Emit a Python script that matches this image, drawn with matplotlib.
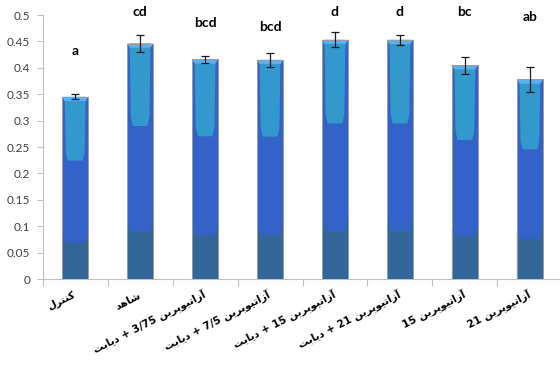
import numpy as np
import matplotlib
matplotlib.use('Agg')
import matplotlib.pyplot as plt
from matplotlib.patches import Polygon
from matplotlib.ticker import FuncFormatter

# Group names (logical Persian order), means, standard errors and significance letters
groups = ['کنترل', 'شاهد', 'آزاتیوپرین 3/75 + دیابت', 'آزاتیوپرین 7/5 + دیابت',
          'آزاتیوپرین 15 + دیابت', 'آزاتیوپرین 21 + دیابت', 'آزاتیوپرین 15', 'آزاتیوپرین 21']
means = [0.345, 0.446, 0.416, 0.415, 0.453, 0.453, 0.405, 0.378]
errors = [0.005, 0.016, 0.006, 0.013, 0.014, 0.009, 0.016, 0.024]
letters = ['a', 'cd', 'bcd', 'bcd', 'd', 'd', 'bc', 'ab']

# baseline heights of the letters above the bars
letter_pos = [0.424, 0.499, 0.478, 0.470, 0.499, 0.499, 0.499, 0.488]

# contextual forms: isolated, final, initial, medial
FORMS = {
    'ا': ('\uFE8D', '\uFE8E', None, None),
    'آ': ('\uFE81', '\uFE82', None, None),
    'ب': ('\uFE8F', '\uFE90', '\uFE91', '\uFE92'),
    'پ': ('\uFB56', '\uFB57', '\uFB58', '\uFB59'),
    'ت': ('\uFE95', '\uFE96', '\uFE97', '\uFE98'),
    'د': ('\uFEA9', '\uFEAA', None, None),
    'ر': ('\uFEAD', '\uFEAE', None, None),
    'ز': ('\uFEAF', '\uFEB0', None, None),
    'ش': ('\uFEB5', '\uFEB6', '\uFEB7', '\uFEB8'),
    'ک': ('\uFB8E', '\uFB8F', '\uFB90', '\uFB91'),
    'ل': ('\uFEDD', '\uFEDE', '\uFEDF', '\uFEE0'),
    'ن': ('\uFEE5', '\uFEE6', '\uFEE7', '\uFEE8'),
    'ه': ('\uFEE9', '\uFEEA', '\uFEEB', '\uFEEC'),
    'و': ('\uFEED', '\uFEEE', None, None),
    'ی': ('\uFBFC', '\uFBFD', '\uFBFE', '\uFBFF'),
}


def shape_word(w):
    out = []
    for i, c in enumerate(w):
        if c not in FORMS:
            out.append(c)
            continue
        prev = w[i - 1] if i > 0 else None
        nxt = w[i + 1] if i + 1 < len(w) else None
        dual = FORMS[c][2] is not None
        jp = prev in FORMS and FORMS[prev][2] is not None
        jn = dual and nxt in FORMS
        if jp and jn:
            out.append(FORMS[c][3])
        elif jp:
            out.append(FORMS[c][1])
        elif jn:
            out.append(FORMS[c][2])
        else:
            out.append(FORMS[c][0])
    return ''.join(reversed(out))


def visual(text):
    toks = []
    for t in reversed(text.split(' ')):
        if any(ch in FORMS for ch in t):
            toks.append(shape_word(t))
        else:
            toks.append(t)
    return ' '.join(toks)


fig = plt.figure(figsize=(5.6, 3.65), dpi=100)
ax = fig.add_axes([0.0762, 0.2356, 0.928, 0.7233])

x = np.arange(len(groups))
w = 0.4
grey = '#bfbfbf'

# base body of each bar
ax.bar(x, means, width=w, color='#3363c8', edgecolor='#9c9c9c', linewidth=0.7, zorder=2)

for xi, h in zip(x, means):
    # dark lower section
    dark = Polygon([(xi - w / 2, 0), (xi + w / 2, 0), (xi + w / 2, 0.24 * h),
                    (xi + 0.46 * w, 0.24 * h), (xi + 0.36 * w, 0.2 * h),
                    (xi - 0.36 * w, 0.2 * h), (xi - 0.46 * w, 0.24 * h),
                    (xi - w / 2, 0.24 * h)],
                   closed=True, facecolor='#336699', edgecolor='none', zorder=3)
    ax.add_patch(dark)
    # light upper section, tapering at its lower end
    light = Polygon([(xi - 0.40 * w, h), (xi + 0.40 * w, h), (xi + 0.36 * w, 0.69 * h),
                     (xi + 0.28 * w, 0.65 * h), (xi - 0.28 * w, 0.65 * h),
                     (xi - 0.36 * w, 0.69 * h)],
                    closed=True, facecolor='#3399cc', edgecolor='none', zorder=3)
    ax.add_patch(light)
    # top bevel highlight
    bevel = Polygon([(xi - w / 2, h), (xi + w / 2, h), (xi + 0.40 * w, h - 0.008),
                     (xi - 0.40 * w, h - 0.008)],
                    closed=True, facecolor='#5cb0f2', edgecolor='none', zorder=3)
    ax.add_patch(bevel)

ax.bar(x, means, width=w, color='none', edgecolor='#9c9c9c', linewidth=0.7, zorder=4)

ax.errorbar(x, means, yerr=errors, fmt='none', ecolor='#1a1a1a', elinewidth=0.9,
            capsize=3, capthick=0.9, zorder=5)

for xi, lab, ly in zip(x, letters, letter_pos):
    ax.text(xi, ly, lab, ha='center', va='baseline', fontsize=10, fontweight='bold',
            family='Lato', color='#000000', clip_on=False)

ax.set_xlim(-0.5, 7.5)
ax.set_ylim(0, 0.5)
ax.set_yticks(np.arange(0, 0.501, 0.05))
ax.yaxis.set_major_formatter(FuncFormatter(lambda v, p: f'{round(v, 2):g}'))

ax.set_xticks(np.arange(-0.5, 7.6, 1.0))
ax.set_xticklabels([])
ax.set_xticks(x, minor=True)
ax.set_xticklabels([visual(g) for g in groups], minor=True, rotation=27,
                   ha='right', va='center', rotation_mode='anchor',
                   fontsize=7.5, fontweight='bold', family='DejaVu Sans')
ax.tick_params(axis='x', which='minor', length=0, pad=11)
ax.tick_params(axis='x', which='major', length=5, color=grey, width=0.8)
ax.tick_params(axis='y', length=4, color=grey, width=0.8, labelsize=8.5,
               labelcolor='#404040', pad=5)
for t in ax.get_yticklabels():
    t.set_family('Lato')

for s in ['top', 'right']:
    ax.spines[s].set_visible(False)
for s in ['left', 'bottom']:
    ax.spines[s].set_color(grey)
    ax.spines[s].set_linewidth(0.8)

fig.savefig('out.png', dpi=100)
